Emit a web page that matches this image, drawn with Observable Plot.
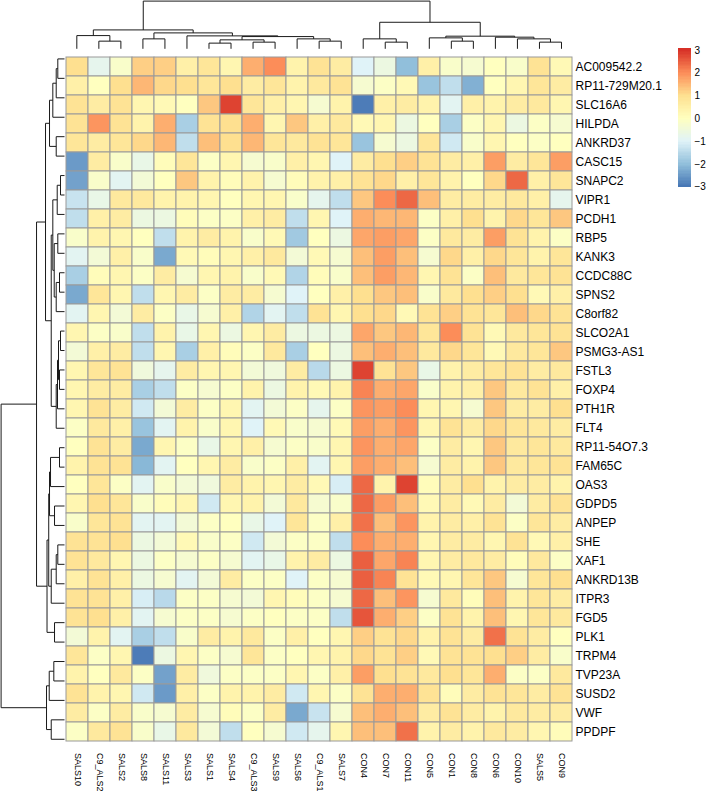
<!DOCTYPE html>
<html><head><meta charset="utf-8">
<script src="https://cdn.jsdelivr.net/npm/d3@7"></script>
<script src="https://cdn.jsdelivr.net/npm/@observablehq/plot@0.6"></script>
<style>
html,body{margin:0;padding:0;background:#fff;}
#chart{position:relative;width:709px;height:792px;overflow:hidden;background:#fff;}
#chart svg{position:absolute;overflow:visible;}
</style></head><body><div id="chart"></div>
<script>
const columns = ["SALS10","C9_ALS2","SALS2","SALS8","SALS11","SALS3","SALS1","SALS4","C9_ALS3","SALS9","SALS6","C9_ALS1","SALS7","CON4","CON7","CON11","CON5","CON1","CON8","CON6","CON10","SALS5","CON9"];
const genes = ["AC009542.2","RP11-729M20.1","SLC16A6","HILPDA","ANKRD37","CASC15","SNAPC2","VIPR1","PCDH1","RBP5","KANK3","CCDC88C","SPNS2","C8orf82","SLCO2A1","PSMG3-AS1","FSTL3","FOXP4","PTH1R","FLT4","RP11-54O7.3","FAM65C","OAS3","GDPD5","ANPEP","SHE","XAF1","ANKRD13B","ITPR3","FGD5","PLK1","TRPM4","TVP23A","SUSD2","VWF","PPDPF"];
// z-scores, one array per gene (row), in column order
const zAC009542 = [1.0,-0.8,-0.2,1.2,1.2,0.5,0.8,0.3,1.6,2.0,0.4,0.9,0.6,-1.0,-0.6,-2.0,0.5,-0.2,-0.3,0,-0.2,0.9,0.2];
const zRP11_729 = [0.5,0,1.0,1.5,1.1,1.0,0.8,1.0,0.6,0.8,0.4,0.7,0.9,-0.3,-0.1,0.2,-1.9,-1.4,-2.2,0,0.3,0.8,0.6];
const zSLC16A6 = [0.9,0.6,0.9,0.3,0.2,0,1.3,2.8,0.8,0.5,0.3,-0.3,0.4,-2.9,0.5,0.6,0.4,-0.9,0.5,0.4,0.6,0.7,0.3];
const zHILPDA = [0.9,1.9,0.9,0.4,1.6,-1.7,0.9,1.0,1.6,0.3,1.3,0.5,0.7,0.2,0.3,-0.6,0,-1.7,-0.1,0.3,-0.6,-0.1,-0.3];
const zANKRD37 = [0.8,0.6,0.8,1.1,1.5,-1.4,1.4,1.0,1.5,0.8,0.7,0.9,0.8,-1.9,-0.3,-0.6,0.8,-1.2,-0.2,0.3,0,-0.1,0];
const zCASC15 = [-2.5,0.6,-0.2,-0.7,0.1,0.8,-0.1,0.3,-0.3,-0.2,0.5,0.3,-1.0,0.6,1.0,1.2,0.9,0.6,0.5,1.8,0.6,0.8,1.8];
const zSNAPC2 = [-2.4,-0.2,-0.9,-0.4,0,1.3,0.4,0.1,0.4,-0.3,0.1,0.4,0.5,0.9,1.1,0.5,0.8,0.4,0,1.1,2.4,0.5,0.8];
const zVIPR1 = [-1.3,-0.7,0.7,0.7,0.4,0.4,0.3,0,0.3,0.3,-0.2,-0.8,-1.4,1.3,2.0,2.4,1.4,0.6,0.6,0.6,0.7,0.5,-0.8];
const zPCDH1 = [-1.4,0.5,0.6,-0.6,-0.6,0.1,-0.1,-0.1,0.5,0.6,-1.4,0.3,-1.0,1.6,1.5,1.5,-0.1,0.5,1.0,0.4,1.1,0.8,1.3];
const zRBP5 = [-0.2,0.4,0.3,0,-1.4,0.4,0.6,0.4,-0.2,0.2,-1.8,0,-0.6,1.7,1.8,1.7,-0.1,0.7,0.6,1.8,0.9,0.4,-0.1];
const zKANK3 = [-0.9,-0.4,0.5,-0.2,-2.3,0.2,0.1,0.3,0.5,0.7,-0.4,0.2,-0.3,1.4,1.8,1.4,-0.3,1.1,0.5,1.1,0.8,0.4,0.8];
const zCCDC88C = [-1.7,0.1,0.3,-0.1,0.6,-0.3,0.3,0.4,-0.2,0.2,-1.6,0.1,-0.2,1.4,1.8,1.5,0.3,0.9,-0.1,1.4,0.7,0.8,0.9];
const zSPNS2 = [-2.3,0.8,0.3,-1.4,0.3,0.6,-0.1,0.6,0.6,-0.3,-1.0,0,0.5,1.0,1.3,1.4,-0.2,0.7,1.0,1.2,1.0,0.2,0.5];
const zC8orf82 = [-0.9,0.3,-0.4,0.6,-0.1,-0.7,-0.3,0.5,-1.6,-0.9,-1.4,0.9,0.3,1.0,1.1,0.2,0.9,1.2,0.9,0.8,1.4,1.1,0.9];
const zSLCO2A1 = [0.3,-0.1,-0.2,-1.4,0.4,-0.7,0.3,-0.6,0.3,0.6,-0.6,-0.6,-0.6,1.7,1.3,1.5,0.8,2.0,0.9,0.2,0.7,0.8,0.9];
const zPSMG3 = [-0.4,0.5,0.6,-1.4,0.3,-1.7,0.5,0.1,-0.1,0.7,-1.7,0,-0.6,1.4,1.6,1.4,0.7,1.1,0.8,0.2,0.7,0.8,1.3];
const zFSTL3 = [0.3,0.8,0.9,-0.5,-0.8,0.6,0.3,0.3,-0.4,-0.5,0.6,-1.5,-0.6,2.8,0.9,1.3,-0.7,0.4,0.6,0.8,0.9,0.6,0.7];
const zFOXP4 = [0.3,0.6,0.6,-1.7,-1.4,-0.1,-0.3,-0.1,0.4,-0.6,0.4,0.2,0.4,2.1,1.6,1.7,-0.2,0.4,0.5,1.3,0.7,0.9,0.5];
const zPTH1R = [0.3,0.9,0.6,-1.2,-0.4,0.6,-0.1,0.3,-0.9,-0.4,-0.1,-0.8,-0.1,1.9,1.8,2.0,0.3,0.3,-0.3,1.3,0.6,0.6,1.0];
const zFLT4 = [-0.1,0.7,0.5,-1.9,-0.9,0.4,-0.2,0.3,-1.0,0.2,-0.2,-0.3,0.2,1.8,1.6,1.9,0.3,0.9,0.6,1.1,0.8,0.7,0.6];
const zRP11_54O7 = [0,0.9,0.6,-2.3,0.3,-0.1,-0.7,0.3,0.5,-0.3,-0.1,-0.2,0.3,1.9,1.6,1.7,-0.1,0.6,0.3,1.3,0.7,0.8,0.7];
const zFAM65C = [0.4,0.9,0.9,-2.1,-0.9,0,0.3,0.6,-0.2,-0.1,0.5,-0.9,0.3,1.8,1.6,1.4,-0.3,0.6,0.4,1.3,0.7,0.8,0.9];
const zOAS3 = [0,0.8,-0.1,-0.9,-0.2,-0.4,-0.5,0.6,0.4,0.3,0.6,0.2,-1.1,2.4,0.4,2.8,0.1,0.6,1.0,0.4,0.6,0.6,0.4];
const zGDPD5 = [0.3,1.0,0.8,-0.2,0.1,0.3,-1.2,0.3,0.4,-0.4,0.7,-0.3,-0.2,2.4,1.8,1.4,0.2,0.6,0.2,0.6,-0.4,0.6,0.9];
const zANPEP = [-0.2,0.8,0.9,-0.9,-0.9,-0.4,-0.1,0,-0.7,-1.0,0.8,-0.1,0.5,2.3,1.4,1.9,0.4,0.6,0.5,0.9,-0.1,0.8,0.6];
const zSHE = [0.9,0.9,1.0,-0.6,-0.4,0.2,-0.2,-0.1,-1.2,-0.4,-0.1,-0.1,-1.4,2.0,1.6,1.6,0.3,0.6,0.6,0.3,0.9,0.2,0.5];
const zXAF1 = [0.9,0.7,0.3,-0.6,-0.1,-0.3,-0.1,-0.3,-0.9,-0.7,0.4,0.6,-0.6,2.5,1.7,2.1,0.3,0.6,0.7,0.6,0.1,0.7,-0.1];
const zANKRD13B = [0.5,0.9,0.5,-0.6,-0.3,-0.9,-0.4,0.6,-0.1,-0.1,-1.0,-0.1,-0.3,2.5,2.1,0.9,0.2,0.3,0.8,1.3,-0.3,0.8,1.0];
const zITPR3 = [0.9,0.9,0.5,-1.1,-1.5,-0.1,-0.1,-0.3,-0.4,0.3,0.1,-0.1,-0.3,2.4,1.4,1.9,-0.3,0.7,0.1,1.4,0.4,0.8,0.6];
const zFGD5 = [0.9,1.0,0.5,-0.9,-0.3,-0.1,-0.1,-0.3,-0.1,0,-0.1,-0.1,-1.4,2.6,1.6,1.2,-0.1,0.9,0.4,1.4,0.3,0.8,0.7];
const zPLK1 = [-0.4,0.4,-0.9,-1.7,-1.4,-0.2,0.6,0.4,0.7,-0.1,0.5,0,0.3,1.2,0.9,1.1,0.4,0.9,0.6,2.3,0.9,0.6,0];
const zTRPM4 = [0.8,-0.1,0.3,-2.9,-0.6,0.3,-0.1,-0.3,0.8,-0.1,0,0.3,0.4,1.1,0.9,1.2,0.2,0.9,0.9,1.0,1.2,0.6,-0.2];
const zTVP23A = [0.4,0,0.7,-0.1,-2.4,0.6,-0.5,-0.1,-0.1,-0.1,0.3,-0.1,0.5,1.8,1.0,0.9,0.7,1.0,0.8,1.6,-0.1,-0.1,0.7];
const zSUSD2 = [0.9,0.4,0.3,-1.2,-2.5,0.5,-0.1,0.4,0.4,0.6,-1.2,0.3,-0.1,0.9,1.6,1.6,0.9,0.1,0.6,0.9,0.8,0.6,0.9];
const zVWF = [0.6,-0.1,0.6,-0.2,-0.3,0.6,-0.3,0.1,-0.1,0.6,-2.3,-1.3,-0.3,1.4,1.6,1.4,0.6,0.9,0.6,0.4,0.7,0.6,0.6];
const zPPDPF = [-0.1,0.7,0.9,-0.2,-0.7,0.7,-0.4,-1.4,0,-0.3,-1.2,-0.8,0.3,1.4,1.4,2.3,0.4,0.6,0.4,0.7,0.6,0.3,0.1];
const rowValues = [zAC009542,zRP11_729,zSLC16A6,zHILPDA,zANKRD37,zCASC15,zSNAPC2,zVIPR1,zPCDH1,zRBP5,zKANK3,zCCDC88C,zSPNS2,zC8orf82,zSLCO2A1,zPSMG3,zFSTL3,zFOXP4,zPTH1R,zFLT4,zRP11_54O7,zFAM65C,zOAS3,zGDPD5,zANPEP,zSHE,zXAF1,zANKRD13B,zITPR3,zFGD5,zPLK1,zTRPM4,zTVP23A,zSUSD2,zVWF,zPPDPF];

// dendrograms: [mergeHeight, left, right]; leaves are positions in display order
const colTree = [48,
  [19, [13.3, 0, [7.7, 1, 2]],
       [16, [10, 3, 4], [13, 5, [12.3, [9, [5.7, 6, 7], [6.7, 8, 9]], [10, 10, [7.7, 11, 12]]]]]],
  [26.7, [10, 13, [6.7, 14, 15]],
       [12.7, [11, 16, [7.7, 17, 18]], [11.7, 19, [10, 20, [6.7, 21, 22]]]]]];
const rowTree = [63.5,
  [18, [13.3, 0, 1], [15.3, 2, [10.7, 3, 4]]],
  [28,
    [17.5, [10, 5, 6], [15.8, [13.3, 7, [8.3, 8, [6.7, 9, 10]]], [15, [10, 11, 12], [14, 13, [5, 14, 15]]]]],
    [19,
      [13.3, [8.3, 16, [7, 17, [6, [5, 18, 19], [4, 20, 21]]]],
             [11.7, [10.3, [8.3, 22, [5, 23, 24]], [6.7, 25, 26]], [7.3, 27, [4, 28, 29]]]],
      [15, [8.3, 30, 31], [11.7, 32, [8.3, 33, [6.7, 34, 35]]]]]]];

const palette = ["#4575B4","#91BFDB","#E0F3F8","#FFFFBF","#FEE090","#FC8D59","#D73027"];
const paletteBreaks = [-3,-2,-1,0,1,2,3];
const legendTicks = [-3,-2,-1,0,1,2,3];
const legendRange = [-3, 3.07];

const W = 709, H = 792;
const FONT = "'Liberation Sans', Arial, Helvetica, sans-serif";
const colorOpts = {type: "linear", domain: paletteBreaks, range: palette, interpolate: "rgb", clamp: true};

const cells = [];
genes.forEach((g, i) => columns.forEach((c, j) => cells.push({gene: g, sample: c, z: rowValues[i][j]})));

function segments(tree) {
  const segs = [];
  (function walk(n) {
    if (typeof n === "number") return {p: n, h: 0};
    const [h, a, b] = n;
    const A = walk(a), B = walk(b);
    segs.push({p1: A.p, p2: B.p, h1: h, h2: h});
    segs.push({p1: A.p, p2: A.p, h1: A.h, h2: h});
    segs.push({p1: B.p, p2: B.p, h1: B.h, h2: h});
    return {p: (A.p + B.p) / 2, h};
  })(tree);
  return segs;
}

const mL = 65.3, mR = 137, mT = 48.7, mB = 43.5;
const chart = document.getElementById("chart");

const main = Plot.plot({
  width: W, height: H,
  marginLeft: mL, marginRight: mR, marginTop: mT, marginBottom: mB,
  style: {background: "transparent", fontFamily: FONT, color: "#000"},
  x: {type: "band", domain: columns, padding: 0, axis: null},
  y: {type: "band", domain: genes, padding: 0, axis: null},
  color: colorOpts,
  marks: [
    Plot.cell(cells, {x: "sample", y: "gene", fill: "z", stroke: "#9a9a9a", strokeWidth: 1, inset: 0}),
    Plot.axisY({anchor: "right", tickSize: 0, tickPadding: 3, fontSize: 12, label: null, fill: "#000"}),
    Plot.axisX({anchor: "bottom", tickSize: 0, tickPadding: 4, tickRotate: 90, fontSize: 9, label: null, fill: "#000"})
  ]
});
main.style.left = "0px"; main.style.top = "0px";
chart.appendChild(main);

const colDendro = Plot.plot({
  width: W, height: 50,
  marginLeft: mL, marginRight: mR, marginTop: 0, marginBottom: 0,
  style: {background: "transparent"},
  x: {type: "linear", domain: [-0.5, columns.length - 0.5], axis: null},
  y: {type: "linear", domain: [0, colTree[0]], range: [48.3, 0.6], axis: null},
  marks: [Plot.link(segments(colTree), {x1: "p1", x2: "p2", y1: "h1", y2: "h2", stroke: "#1a1a1a", strokeWidth: 1, curve: "linear"})]
});
colDendro.style.left = "0px"; colDendro.style.top = "0px";
chart.appendChild(colDendro);

const rowDendro = Plot.plot({
  width: 66, height: H,
  marginLeft: 0, marginRight: 0, marginTop: mT, marginBottom: mB,
  style: {background: "transparent"},
  x: {type: "linear", domain: [rowTree[0], 0], range: [0.6, 64], axis: null},
  y: {type: "linear", domain: [-0.5, genes.length - 0.5], axis: null},
  marks: [Plot.link(segments(rowTree), {y1: "p1", y2: "p2", x1: "h1", x2: "h2", stroke: "#1a1a1a", strokeWidth: 1, curve: "linear"})]
});
rowDendro.style.left = "0px"; rowDendro.style.top = "0px";
chart.appendChild(rowDendro);

const nSteps = 100;
const steps = d3.range(nSteps).map(i => {
  const v0 = legendRange[0] + (legendRange[1] - legendRange[0]) * i / nSteps;
  const v1 = legendRange[0] + (legendRange[1] - legendRange[0]) * (i + 1) / nSteps;
  return {v0, v1, v: (v0 + v1) / 2};
});
const legend = Plot.plot({
  width: 31, height: 160,
  marginLeft: 0, marginRight: 18, marginTop: 8.3, marginBottom: 13.3,
  style: {background: "transparent", fontFamily: FONT, color: "#000"},
  x: {type: "linear", domain: [0, 1], axis: null},
  y: {type: "linear", domain: legendRange, axis: null},
  color: colorOpts,
  marks: [
    Plot.rect(steps, {x1: 0, x2: 1, y1: "v0", y2: "v1", fill: "v", shapeRendering: "crispEdges"}),
    Plot.axisY(legendTicks, {anchor: "right", tickSize: 0, tickPadding: 3, fontSize: 10, label: null, fill: "#000",
      tickFormat: d => d < 0 ? "\u2212" + (-d) : String(d)})
  ]
});
legend.style.left = "678px"; legend.style.top = "40px";
chart.appendChild(legend);
</script>
</body></html>
